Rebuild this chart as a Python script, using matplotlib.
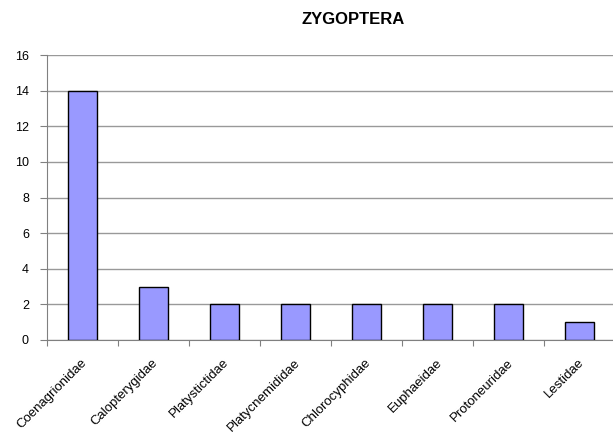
import matplotlib.pyplot as plt
import numpy as np

plt.rcParams['font.family'] = ['Liberation Sans', 'DejaVu Sans']

families = ['Coenagrionidae', 'Calopterygidae', 'Platystictidae', 'Platycnemididae',
            'Chlorocyphidae', 'Euphaeidae', 'Protoneuridae', 'Lestidae']
counts = [14, 3, 2, 2, 2, 2, 2, 1]

fig = plt.figure(figsize=(6.13, 4.32), dpi=100)
ax = fig.add_axes([47/613, 92/432, 568/613, 285/432])

x = np.arange(len(families))
ax.bar(x, counts, width=0.42, color='#9999FF', edgecolor='black', linewidth=1, zorder=3)

ax.set_xlim(-0.5, len(families) - 0.5)
ax.set_ylim(0, 16)
ax.set_yticks(np.arange(0, 17, 2))
ax.yaxis.grid(True, color='#999999', linewidth=1, zorder=0)

ax.set_xticks(np.arange(-0.5, len(families), 1))
ax.set_xticklabels([])
ax.tick_params(axis='x', length=4, color='#808080', direction='out')
ax.tick_params(axis='y', length=5, color='#808080', direction='out', labelsize=9, pad=8)

# category names under the bars, rotated
for xi, name in zip(x, families):
    ax.annotate(name, xy=(xi, 0), xycoords=('data', 'axes fraction'),
                xytext=(-1, -12), textcoords='offset points',
                rotation=45, ha='right', va='top', rotation_mode='anchor',
                fontsize=9.5)

for side in ['top', 'right']:
    ax.spines[side].set_visible(False)
ax.spines['left'].set_color('#808080')
ax.spines['bottom'].set_color('#808080')

fig.text(353/613, 1 - 20/432, 'ZYGOPTERA', ha='center', va='center', fontsize=12,
         fontweight='bold')

fig.savefig('out.png', dpi=100)
